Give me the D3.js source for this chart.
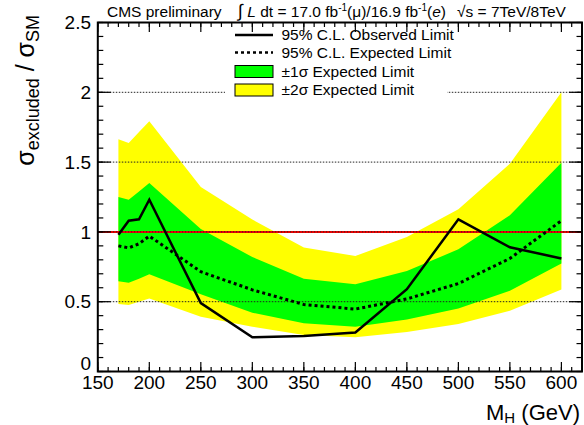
<!DOCTYPE html>
<html>
<head>
<meta charset="utf-8">
<script src="https://cdn.jsdelivr.net/npm/d3@7"></script>
<style>
  body { margin: 0; background: #fff; }
  svg { font-family: "Liberation Sans", Arial, Helvetica, sans-serif; }
</style>
</head>
<body>
<div id="chart"></div>
<script>
// Higgs mass points (GeV)
const masses = [170, 180, 190, 200, 250, 300, 350, 400, 450, 500, 550, 600];
// 95% CL limits on sigma/sigma_SM
const observed = [0.98, 1.08, 1.09, 1.23, 0.49, 0.245, 0.255, 0.28, 0.59, 1.09, 0.89, 0.81];
const expected = [0.90, 0.885, 0.915, 0.97, 0.715, 0.585, 0.48, 0.447, 0.52, 0.63, 0.81, 1.08];
const oneSigmaUp = [1.25, 1.23, 1.29, 1.35, 1.02, 0.82, 0.665, 0.625, 0.72, 0.875, 1.12, 1.495];
const oneSigmaDown = [0.647, 0.635, 0.665, 0.697, 0.554, 0.421, 0.345, 0.321, 0.373, 0.452, 0.578, 0.774];
const twoSigmaUp = [1.663, 1.637, 1.715, 1.792, 1.322, 1.089, 0.888, 0.828, 0.964, 1.162, 1.489, 2.0];
const twoSigmaDown = [0.483, 0.476, 0.50, 0.523, 0.392, 0.321, 0.261, 0.245, 0.283, 0.34, 0.435, 0.588];

const xTicks = [150, 200, 250, 300, 350, 400, 450, 500, 550, 600];
const yTicks = [0, 0.5, 1, 1.5, 2, 2.5];
const gridLevels = [0.5, 1, 1.5, 2];

const width = 584;
const height = 425;
const plotLeft = 97.8, plotRight = 582, plotTop = 22.5, plotBottom = 371.5;

const svg = d3.select('#chart')
    .append('svg')
    .attr('width', width)
    .attr('height', height);

const x = d3.scaleLinear().domain([150, 620]).range([plotLeft, plotRight]);
const y = d3.scaleLinear().domain([0, 2.5]).range([plotBottom, plotTop]);

const rows = masses.map((m, i) => ({
    m: m,
    obs: observed[i],
    exp: expected[i],
    u1: oneSigmaUp[i], d1: oneSigmaDown[i],
    u2: twoSigmaUp[i], d2: twoSigmaDown[i]
}));

// bands
svg.append('path')
    .datum(rows)
    .attr('fill', '#ffff00')
    .attr('d', d3.area().x(d => x(d.m)).y0(d => y(d.d2)).y1(d => y(d.u2)));

svg.append('path')
    .datum(rows)
    .attr('fill', '#00ff00')
    .attr('d', d3.area().x(d => x(d.m)).y0(d => y(d.d1)).y1(d => y(d.u1)));

// red line at 1
svg.append('line')
    .attr('x1', plotLeft).attr('x2', plotRight)
    .attr('y1', y(1)).attr('y2', y(1))
    .attr('stroke', '#ff0000')
    .attr('stroke-width', 2);

// dotted grid
svg.selectAll('.grid')
    .data(gridLevels)
    .enter()
    .append('line')
    .attr('class', 'grid')
    .attr('x1', plotLeft).attr('x2', plotRight)
    .attr('y1', d => y(d)).attr('y2', d => y(d))
    .attr('stroke', '#222')
    .attr('stroke-width', 1)
    .attr('stroke-dasharray', '1.5,1.5');

// expected
svg.append('path')
    .datum(rows)
    .attr('fill', 'none')
    .attr('stroke', '#000')
    .attr('stroke-width', 3)
    .attr('stroke-dasharray', '3,3')
    .attr('d', d3.line().x(d => x(d.m)).y(d => y(d.exp)));

// observed
svg.append('path')
    .datum(rows)
    .attr('fill', 'none')
    .attr('stroke', '#000')
    .attr('stroke-width', 2.5)
    .attr('d', d3.line().x(d => x(d.m)).y(d => y(d.obs)));

// legend
const legend = svg.append('g');
legend.append('rect')
    .attr('x', 225).attr('y', 27)
    .attr('width', 222).attr('height', 71)
    .attr('fill', '#fff');

const legendItems = [
    { label: '95% C.L. Observed Limit', type: 'solid', cy: 35 },
    { label: '95% C.L. Expected Limit', type: 'dotted', cy: 52.5 },
    { label: '\u00b11\u03c3 Expected Limit', type: 'box', color: '#00ff00', cy: 71.5 },
    { label: '\u00b12\u03c3 Expected Limit', type: 'box', color: '#ffff00', cy: 90 }
];
legendItems.forEach(item => {
    if (item.type === 'box') {
        legend.append('rect')
            .attr('x', 235).attr('y', item.cy - 6)
            .attr('width', 38).attr('height', 12)
            .attr('fill', item.color)
            .attr('stroke', '#000')
            .attr('stroke-width', 1);
    } else {
        legend.append('line')
            .attr('x1', 235).attr('x2', 273)
            .attr('y1', item.cy).attr('y2', item.cy)
            .attr('stroke', '#000')
            .attr('stroke-width', 2.5)
            .attr('stroke-dasharray', item.type === 'solid' ? null : '3,3');
    }
    legend.append('text')
        .attr('x', 281.5).attr('y', item.cy)
        .attr('dy', '0.35em')
        .style('font-size', '15.5px')
        .text(item.label);
});

// axes (ticks inside, on all four sides)
const xMinor = d3.range(150, 621, 10);
const yMinor = d3.range(0, 2.501, 0.1);

function tickLines(vals, len, side) {
    const horiz = side === 'b' || side === 't';
    svg.append('g')
        .selectAll('line')
        .data(vals)
        .enter()
        .append('line')
        .attr('x1', d => horiz ? x(d) : (side === 'l' ? plotLeft : plotRight))
        .attr('x2', d => horiz ? x(d) : (side === 'l' ? plotLeft + len : plotRight - len))
        .attr('y1', d => horiz ? (side === 'b' ? plotBottom : plotTop) : y(d))
        .attr('y2', d => horiz ? (side === 'b' ? plotBottom - len : plotTop + len) : y(d))
        .attr('stroke', '#000')
        .attr('stroke-width', 1.2);
}
tickLines(xMinor, 4.5, 'b');
tickLines(xMinor, 4.5, 't');
tickLines(xTicks, 9.5, 'b');
tickLines(xTicks, 9.5, 't');
tickLines(yMinor, 5.5, 'l');
tickLines(yMinor, 5.5, 'r');
tickLines(yTicks, 13, 'l');
tickLines(yTicks, 13, 'r');

svg.append('rect')
    .attr('x', plotLeft).attr('y', plotTop)
    .attr('width', plotRight - plotLeft).attr('height', plotBottom - plotTop)
    .attr('fill', 'none')
    .attr('stroke', '#000')
    .attr('stroke-width', 2);

// tick labels
svg.selectAll('.xlab')
    .data(xTicks)
    .enter()
    .append('text')
    .attr('class', 'xlab')
    .attr('x', d => x(d))
    .attr('y', 389)
    .attr('text-anchor', 'middle')
    .style('font-size', '19px')
    .text(d => d);

svg.selectAll('.ylab')
    .data(yTicks)
    .enter()
    .append('text')
    .attr('class', 'ylab')
    .attr('x', 91)
    .attr('y', d => d === 0 ? y(d) - 8 : y(d))
    .attr('dy', '0.35em')
    .attr('text-anchor', 'end')
    .style('font-size', '19px')
    .text(d => d);

// axis titles
const xTitle = svg.append('text')
    .attr('x', 580)
    .attr('y', 419.5)
    .attr('text-anchor', 'end')
    .style('font-size', '22px');
xTitle.append('tspan').text('M');
xTitle.append('tspan').attr('dy', 3).style('font-size', '15px').text('H');
xTitle.append('tspan').attr('dy', -3).text(' (GeV)');

const yTitle = svg.append('text')
    .attr('transform', 'translate(33.5,15) rotate(-90)')
    .attr('text-anchor', 'end')
    .style('font-size', '25px');
yTitle.append('tspan').text('\u03c3');
yTitle.append('tspan').attr('dy', 5).style('font-size', '18px').text('excluded');
yTitle.append('tspan').attr('dy', -5).text(' / \u03c3');
yTitle.append('tspan').attr('dy', 5).style('font-size', '18px').text('SM');

// header
svg.append('text')
    .attr('x', 107).attr('y', 16.5)
    .style('font-size', '15.5px')
    .text('CMS preliminary');

const lumi = svg.append('text')
    .attr('x', 238).attr('y', 16.5)
    .style('font-size', '15.5px');
lumi.append('tspan').style('font-size', '18px').text('\u222b');
lumi.append('tspan').text(' ');
lumi.append('tspan').style('font-style', 'italic').text('L');
lumi.append('tspan').text(' dt = 17.0 fb');
lumi.append('tspan').attr('dy', -6).style('font-size', '10px').text('-1');
lumi.append('tspan').attr('dy', 6).text('(\u03bc)/16.9 fb');
lumi.append('tspan').attr('dy', -6).style('font-size', '10px').text('-1');
lumi.append('tspan').attr('dy', 6).text('(');
lumi.append('tspan').style('font-style', 'italic').text('e');
lumi.append('tspan').text(')');

svg.append('text')
    .attr('x', 457).attr('y', 16.5)
    .style('font-size', '15.5px')
    .text('\u221as = 7TeV/8TeV');
</script>
</body>
</html>
